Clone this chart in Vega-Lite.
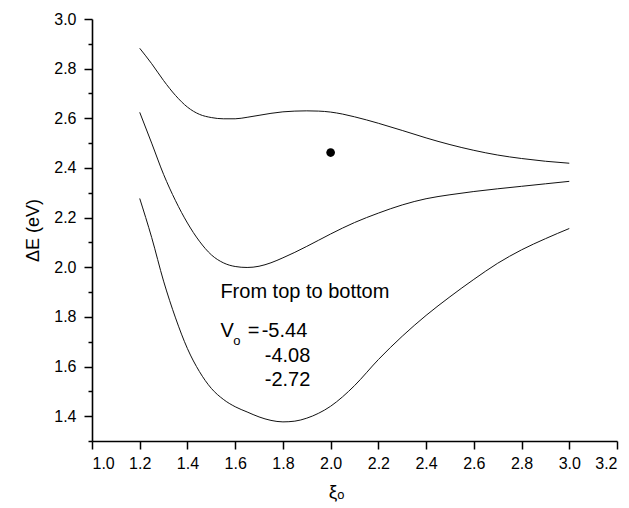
{
  "$schema": "https://vega.github.io/schema/vega-lite/v6.json",
  "width": 525,
  "height": 422,
  "autosize": {"type": "none"},
  "padding": {"left": 92, "top": 19, "right": 12, "bottom": 67},
  "background": "white",
  "config": {
    "view": {"stroke": null},
    "font": "Liberation Sans",
    "axis": {
      "grid": false,
      "domainColor": "black",
      "domainWidth": 1.6,
      "tickColor": "black",
      "tickWidth": 1.5,
      "labelColor": "black",
      "labelFont": "Liberation Sans",
      "labelFontSize": 16,
      "labelOverlap": false,
      "titleFont": "Liberation Sans",
      "titleFontSize": 18,
      "titleFontWeight": "normal",
      "titleColor": "black"
    }
  },
  "resolve": {"axis": {"y": "independent"}},
  "datasets": {
    "curves": [
      {"s": "a", "x": 1.2, "y": 2.882}, {"s": "a", "x": 1.25, "y": 2.82}, {"s": "a", "x": 1.3, "y": 2.752},
      {"s": "a", "x": 1.35, "y": 2.692}, {"s": "a", "x": 1.4, "y": 2.645}, {"s": "a", "x": 1.45, "y": 2.616},
      {"s": "a", "x": 1.5, "y": 2.603}, {"s": "a", "x": 1.55, "y": 2.598}, {"s": "a", "x": 1.6, "y": 2.598},
      {"s": "a", "x": 1.65, "y": 2.604}, {"s": "a", "x": 1.7, "y": 2.612}, {"s": "a", "x": 1.75, "y": 2.62},
      {"s": "a", "x": 1.8, "y": 2.626}, {"s": "a", "x": 1.85, "y": 2.629}, {"s": "a", "x": 1.9, "y": 2.63},
      {"s": "a", "x": 1.95, "y": 2.629}, {"s": "a", "x": 2.0, "y": 2.625}, {"s": "a", "x": 2.05, "y": 2.617},
      {"s": "a", "x": 2.1, "y": 2.606}, {"s": "a", "x": 2.2, "y": 2.58}, {"s": "a", "x": 2.3, "y": 2.551},
      {"s": "a", "x": 2.4, "y": 2.521}, {"s": "a", "x": 2.5, "y": 2.494}, {"s": "a", "x": 2.6, "y": 2.471},
      {"s": "a", "x": 2.7, "y": 2.452}, {"s": "a", "x": 2.8, "y": 2.438}, {"s": "a", "x": 2.9, "y": 2.427},
      {"s": "a", "x": 3.0, "y": 2.419},
      {"s": "b", "x": 1.2, "y": 2.624}, {"s": "b", "x": 1.25, "y": 2.5}, {"s": "b", "x": 1.3, "y": 2.374},
      {"s": "b", "x": 1.35, "y": 2.268}, {"s": "b", "x": 1.4, "y": 2.178}, {"s": "b", "x": 1.45, "y": 2.105},
      {"s": "b", "x": 1.5, "y": 2.05}, {"s": "b", "x": 1.55, "y": 2.018}, {"s": "b", "x": 1.6, "y": 2.003},
      {"s": "b", "x": 1.65, "y": 1.999}, {"s": "b", "x": 1.7, "y": 2.004}, {"s": "b", "x": 1.75, "y": 2.018},
      {"s": "b", "x": 1.8, "y": 2.038}, {"s": "b", "x": 1.85, "y": 2.06}, {"s": "b", "x": 1.9, "y": 2.084},
      {"s": "b", "x": 1.95, "y": 2.109}, {"s": "b", "x": 2.0, "y": 2.134}, {"s": "b", "x": 2.1, "y": 2.18},
      {"s": "b", "x": 2.2, "y": 2.218}, {"s": "b", "x": 2.3, "y": 2.251}, {"s": "b", "x": 2.4, "y": 2.276},
      {"s": "b", "x": 2.5, "y": 2.292}, {"s": "b", "x": 2.6, "y": 2.305}, {"s": "b", "x": 2.7, "y": 2.316},
      {"s": "b", "x": 2.8, "y": 2.326}, {"s": "b", "x": 2.9, "y": 2.336}, {"s": "b", "x": 3.0, "y": 2.346},
      {"s": "c", "x": 1.2, "y": 2.277}, {"s": "c", "x": 1.25, "y": 2.12}, {"s": "c", "x": 1.3, "y": 1.944},
      {"s": "c", "x": 1.35, "y": 1.796}, {"s": "c", "x": 1.4, "y": 1.672}, {"s": "c", "x": 1.45, "y": 1.58},
      {"s": "c", "x": 1.5, "y": 1.512}, {"s": "c", "x": 1.55, "y": 1.468}, {"s": "c", "x": 1.6, "y": 1.438},
      {"s": "c", "x": 1.65, "y": 1.417}, {"s": "c", "x": 1.7, "y": 1.397}, {"s": "c", "x": 1.75, "y": 1.383},
      {"s": "c", "x": 1.8, "y": 1.377}, {"s": "c", "x": 1.85, "y": 1.38}, {"s": "c", "x": 1.9, "y": 1.392},
      {"s": "c", "x": 1.95, "y": 1.412}, {"s": "c", "x": 2.0, "y": 1.44}, {"s": "c", "x": 2.05, "y": 1.478},
      {"s": "c", "x": 2.1, "y": 1.523}, {"s": "c", "x": 2.2, "y": 1.628}, {"s": "c", "x": 2.3, "y": 1.722},
      {"s": "c", "x": 2.4, "y": 1.806}, {"s": "c", "x": 2.5, "y": 1.881}, {"s": "c", "x": 2.6, "y": 1.951},
      {"s": "c", "x": 2.7, "y": 2.016}, {"s": "c", "x": 2.8, "y": 2.07}, {"s": "c", "x": 2.9, "y": 2.115},
      {"s": "c", "x": 3.0, "y": 2.156}
    ],
    "labels": [
      {"x": 1.538, "y": 1.875, "t": "From top to bottom", "size": 20},
      {"x": 1.538, "y": 1.718, "t": "V", "size": 20},
      {"x": 1.592, "y": 1.688, "t": "o", "size": 13},
      {"x": 1.653, "y": 1.718, "t": "=", "size": 20},
      {"x": 1.711, "y": 1.718, "t": "-5.44", "size": 20},
      {"x": 1.724, "y": 1.617, "t": "-4.08", "size": 20},
      {"x": 1.724, "y": 1.52, "t": "-2.72", "size": 20}
    ],
    "dot": [{"x": 2.0, "y": 2.462}]
  },
  "layer": [
    {
      "data": {"name": "curves"},
      "mark": {"type": "line", "color": "#111", "strokeWidth": 1, "interpolate": "monotone"},
      "encoding": {
        "x": {
          "field": "x", "type": "quantitative",
          "scale": {"domain": [1.0, 3.2], "nice": false, "zero": false},
          "axis": {
            "title": "ξₒ",
            "values": [1.0,1.1,1.2,1.3,1.4,1.5,1.6,1.7,1.8,1.9,2.0,2.1,2.2,2.3,2.4,2.5,2.6,2.7,2.8,2.9,3.0,3.1,3.2],
            "labelExpr": "round(datum.value*10) % 2 == 0 ? format(datum.value, '.1f') : ''",
            "tickSize": {"condition": {"test": "round(datum.value*10) % 2 == 0", "value": 8}, "value": 4},
            "labelFontSize": 16,
            "labelPadding": 6,
            "titleX": 244,
            "titleY": 50,
            "titleFontSize": 19,
            "titleBaseline": "middle"
          }
        },
        "y": {
          "field": "y", "type": "quantitative",
          "scale": {"domain": [1.3, 3.0], "nice": false, "zero": false},
          "axis": {
            "orient": "left",
            "title": "ΔE (eV)",
            "values": [1.4,1.6,1.8,2.0,2.2,2.4,2.6,2.8,3.0],
            "format": ".1f",
            "tickSize": 8,
            "labelFontSize": 16,
            "labelPadding": 8,
            "titleX": -59,
            "titleY": 211,
            "titleAngle": -90,
            "titleAlign": "center",
            "titleBaseline": "middle"
          }
        },
        "detail": {"field": "s"}
      }
    },
    {
      "data": {"name": "labels"},
      "mark": {"type": "text", "align": "left", "baseline": "alphabetic", "color": "black", "font": "Liberation Sans"},
      "encoding": {
        "x": {"field": "x", "type": "quantitative"},
        "y": {
          "field": "y", "type": "quantitative",
          "axis": {
            "orient": "left",
            "title": null,
            "values": [1.3,1.5,1.7,1.9,2.1,2.3,2.5,2.7,2.9],
            "tickSize": 4,
            "labels": false,
            "domain": false,
            "offset": 0
          }
        },
        "text": {"field": "t"},
        "size": {"field": "size", "type": "quantitative", "scale": null}
      }
    },
    {
      "data": {"name": "dot"},
      "mark": {"type": "point", "filled": true, "color": "black", "size": 75, "opacity": 1},
      "encoding": {
        "x": {"field": "x", "type": "quantitative"},
        "y": {"field": "y", "type": "quantitative", "axis": null}
      }
    }
  ]
}
